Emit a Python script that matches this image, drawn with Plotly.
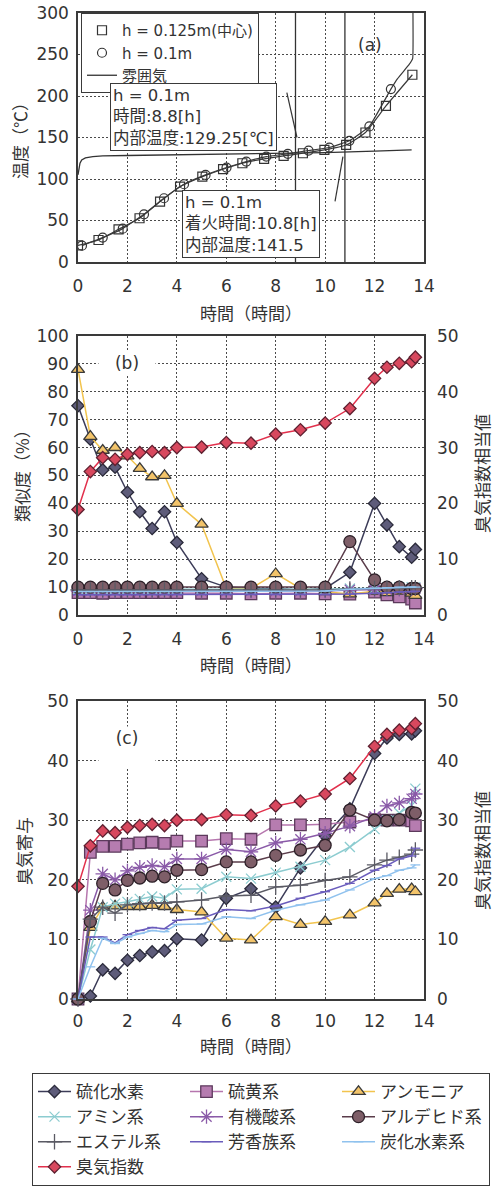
import plotly.graph_objects as go

W, H = 499, 1188
NUM = "DejaVu Sans, Noto Sans CJK JP, sans-serif"
JP = "Noto Sans CJK JP, DejaVu Sans, sans-serif"
TXT = "#333333"

# ---------------- Panel (a): temperature ----------------
t_sq = [0.0, 0.83, 1.64, 2.49, 3.32, 4.13, 5.03, 5.87, 6.65, 7.53, 8.32, 9.1, 9.97, 10.85, 11.63, 12.46, 13.53]
T_sq = [20, 26.5, 39.4, 52.7, 72.8, 90.9, 102.9, 111.8, 119, 124.2, 127.9, 131, 135, 141, 156, 188, 225.6]
t_ci = [0.16, 1.0, 1.81, 2.67, 3.48, 4.29, 5.16, 6.01, 6.81, 7.62, 8.49, 9.33, 10.17, 10.98, 11.79, 12.66]
T_ci = [19.7, 29.4, 40.2, 57.5, 76.8, 93.7, 104.9, 113.8, 121, 127, 130.3, 134.3, 137.9, 146, 163.3, 208.3]
t_ci_tail = [12.93, 13.4, 13.54, 13.55]
T_ci_tail = [221, 238, 245, 310]
t_atm = [0, 0.03, 0.08, 0.15, 0.3, 0.6, 1, 2, 4, 6, 8, 10, 12, 13.5]
T_atm = [105, 113, 119, 123, 125.5, 127, 127.8, 128.3, 129, 129.7, 130.5, 131.8, 133.5, 135]
mark_times = [8.8, 10.8]
mark_temps = [129.25, 141.5]
leader_x = [[8.45, 8.86], [10.72, 10.4]]
leader_y = [[204, 150], [127, 73]]

# ---------------- Panels (b), (c) ----------------
times = [0, 0.5, 1, 1.5, 2, 2.5, 3, 3.5, 4, 5, 6, 7, 8, 9, 10, 11, 12, 12.5, 13, 13.5, 13.65]
names = ["硫化水素", "硫黄系", "アンモニア", "アミン系", "有機酸系",
         "アルデヒド系", "エステル系", "芳香族系", "炭化水素系"]

# (b) similarity (%)
sim_h2s = [75, 63, 52, 53, 44, 37, 31, 37, 26, 13, 10, 9.5, 9.5, 9, 9.5, 15.3, 40, 32.3, 24.5, 20.7, 23.5]
sim_sulfur = [8, 8, 7.8, 8, 8, 8, 8, 8, 8, 7.8, 7.8, 7.6, 7.8, 7.8, 7.6, 7.5, 8.2, 7.2, 6.5, 5.7, 4.3]
sim_ammonia = [88, 64, 59, 60, 57, 52.5, 49.5, 50, 40, 32.5, 9.5, 9.5, 14.8, 9.5, 8.3, 7.5, 8.5, 8, 8.5, 7.8, 7]
sim_amine = [9.2, 9.2, 9.2, 9.2, 9.2, 9.2, 9.2, 9.2, 9.2, 9.2, 9.2, 9.2, 9.2, 9.2, 9.2, 9.5, 9.5, 9.8, 10, 10, 10]
sim_acid = [8.6, 8.6, 8.6, 8.6, 8.6, 8.6, 8.6, 8.6, 8.6, 8.6, 8.6, 8.6, 8.6, 8.6, 8.6, 9, 9, 9, 9.2, 9.3, 9.5]
sim_aldehyde = [10, 10, 10, 10, 10, 10, 10, 10, 10, 10, 10, 10, 10, 10, 10, 26.3, 12.6, 10, 10, 9.5, 9.5]
sim_ester = [9, 9, 9, 9, 9, 9, 9, 9, 9, 9, 9, 9, 9, 9, 9, 9.3, 9.5, 9.6, 9.8, 9.8, 9.8]
sim_aromatic = [7.3, 7.3, 7.3, 7.3, 7.3, 7.3, 7.3, 7.3, 7.3, 7.3, 7.3, 7.3, 7.3, 7.3, 7.3, 7.5, 7.8, 8, 8.2, 8.3, 8.5]
sim_hydro = [8.4, 8.4, 8.4, 8.4, 8.4, 8.4, 8.4, 8.4, 8.4, 8.4, 8.4, 8.4, 8.4, 8.4, 8.6, 9.2, 9.6, 9.8, 10, 10, 10]

# (c) odor contribution
c_h2s = [0, 0.5, 4.9, 4.3, 6.5, 7.3, 7.9, 8.1, 10.1, 9.9, 16.9, 18.5, 15.4, 22, 27.4, 31.9, 41.2, 43.8, 44.4, 44.5, 45]
c_sulfur = [0, 24.6, 25.6, 25.6, 26, 26.2, 26.3, 26.1, 26.5, 26.5, 26.9, 26.8, 29.2, 29.2, 29.3, 29.7, 30.1, 30, 30, 29.9, 29.1]
c_ammonia = [0, 12, 15.4, 15.6, 15.5, 15.5, 15.7, 15.5, 15, 14.6, 10.2, 9.9, 13.8, 12.5, 13, 14.1, 16.1, 17.7, 18.4, 18.5, 18]
c_amine = [0, 8.3, 15.4, 16, 16.3, 16.8, 17.2, 16.9, 18.4, 18.5, 20.5, 20.2, 21.2, 22.2, 23.3, 25.5, 28.5, 30, 31.2, 32.5, 35.3]
c_acid = [0, 14.9, 21, 20, 21.5, 22.1, 22.4, 22.2, 23.5, 23.5, 25.1, 24.7, 26.2, 26.8, 27.8, 29, 30.6, 32.4, 32.9, 33.6, 34.4]
c_aldehyde = [0, 13, 19.4, 18.3, 19.9, 20.3, 20.6, 20.5, 21.6, 21.7, 23, 23, 24.1, 25, 25.8, 31.7, 30, 29.9, 30.1, 31.3, 31.2]
c_ester = [0, 13.4, 15.4, 14.4, 15.8, 16, 16.1, 16.1, 16.3, 16.6, 17.3, 17.4, 18.8, 19.1, 19.9, 20.5, 22.5, 23.3, 23.8, 24.3, 25]
c_aromatic = [0, 10.4, 10.4, 9.4, 10.8, 11.5, 12, 11.8, 13.2, 13.5, 15, 14.8, 15.6, 16.9, 18, 19.4, 21.6, 22.4, 23.5, 24, 25.3]
c_hydro = [0, 5.4, 10.2, 9.3, 10.4, 11, 11.5, 11.3, 12.5, 12.6, 13.8, 13.5, 14.9, 15.8, 16.6, 18.3, 20.2, 20.7, 21.6, 22, 22.5]

odor_name = "臭気指数"
odor_index = [18.9, 25.7, 28.2, 27.9, 28.8, 29.1, 29.3, 29.1, 30, 30.1, 30.9, 30.8, 32.4, 33.2, 34.4, 37, 42.4, 44.4, 45.1, 45.4, 46.2]

sim_series = [sim_h2s, sim_sulfur, sim_ammonia, sim_amine, sim_acid,
              sim_aldehyde, sim_ester, sim_aromatic, sim_hydro]
c_series = [c_h2s, c_sulfur, c_ammonia, c_amine, c_acid,
            c_aldehyde, c_ester, c_aromatic, c_hydro]

styles = [
    dict(line="#3c3c58", fill="#5e5c7a", edge="#2a2a3a", symbol="diamond", size=9.5),
    dict(line="#b676ae", fill="#b67cb0", edge="#5c3a5c", symbol="square", size=11.5),
    dict(line="#f2c44e", fill="#f3c46a", edge="#3a3a3a", symbol="triangle-up", size=11.5),
    dict(line="#8cccd0", fill="#8cccd0", edge="#8cccd0", symbol="x-thin", size=10),
    dict(line="#8a5aa8", fill="#8a5aa8", edge="#8a5aa8", symbol="asterisk", size=12),
    dict(line="#5a3c4a", fill="#7e5e68", edge="#2c2028", symbol="circle", size=12),
    dict(line="#5a5a64", fill="#5a5a64", edge="#5a5a64", symbol="cross-thin", size=11),
    dict(line="#6a5cbc", fill="#6a5cbc", edge="#6a5cbc", symbol="line-ew", size=7),
    dict(line="#90c2ee", fill="#90c2ee", edge="#90c2ee", symbol="line-ew", size=7),
]
odor_style = dict(line="#e2304c", fill="#d8485e", edge="#5e2030", symbol="diamond", size=9.5)

# ---------------- geometry (px) ----------------
PL, PR = 78, 424
A_T, A_B = 13, 262
B_T, B_B = 336, 615
C_T, C_B = 701, 999


def fx(p):
    return p / W


def fy(p):
    return 1 - p / H


fig = go.Figure()

# ----- panel (a) traces -----
line_a = dict(color="#3a3a3a", width=1.2)
fig.add_trace(go.Scatter(x=t_sq, y=T_sq, mode="lines", line=dict(line_a, shape="spline", smoothing=0.4),
                         showlegend=False, hoverinfo="skip", xaxis="x", yaxis="y"))
fig.add_trace(go.Scatter(x=t_ci + t_ci_tail, y=T_ci + T_ci_tail, mode="lines",
                         line=dict(line_a, shape="spline", smoothing=0.3),
                         showlegend=False, hoverinfo="skip", xaxis="x", yaxis="y"))
fig.add_trace(go.Scatter(x=t_sq, y=T_sq, mode="markers", name="h = 0.125m(中心)", legend="legend2",
                         marker=dict(symbol="square-open", size=9, color="#333", line=dict(width=1.2)),
                         xaxis="x", yaxis="y"))
fig.add_trace(go.Scatter(x=t_ci, y=T_ci, mode="markers", name="h = 0.1m", legend="legend2",
                         marker=dict(symbol="circle-open", size=9, color="#333", line=dict(width=1.2)),
                         xaxis="x", yaxis="y"))
fig.add_trace(go.Scatter(x=t_atm, y=T_atm, mode="lines", name="雰囲気", legend="legend2",
                         line=dict(color="#333", width=1.3), xaxis="x", yaxis="y"))


def add_series(x, y, st, name, xa, ya, show):
    fig.add_trace(go.Scatter(
        x=x, y=y, mode="lines+markers", name=name, legendgroup=name, showlegend=show,
        line=dict(color=st["line"], width=1.5),
        marker=dict(symbol=st["symbol"], size=st["size"], color=st["fill"],
                    line=dict(color=st["edge"], width=1.3)),
        cliponaxis=False, xaxis=xa, yaxis=ya))


# ----- panel (b) -----
for nm, ys, st in zip(names, sim_series, styles):
    add_series(times, ys, st, nm, "x2", "y2", False)
add_series(times, odor_index, odor_style, odor_name, "x2", "y3", False)

# ----- panel (c) -----
for nm, ys, st in zip(names, c_series, styles):
    add_series(times, ys, st, nm, "x3", "y4", True)
add_series(times, odor_index, odor_style, odor_name, "x3", "y5", True)

# ---------------- axes ----------------
tickfont = dict(family=NUM, size=17, color=TXT)
grid = dict(showgrid=True, gridcolor="#4a4a4a", griddash="2px,2px", gridwidth=1)
frame = dict(showline=True, linecolor="#3a3a3a", linewidth=1.5, mirror=True, zeroline=False,
             ticks="", automargin=False, tickfont=tickfont)

xcommon = dict(frame, **grid, range=[0, 14], dtick=2, tick0=0, domain=[fx(PL), fx(PR)],
               ticklabelstandoff=8)

fig.update_layout(
    width=W, height=H, template="none",
    margin=dict(l=0, r=0, t=0, b=0),
    paper_bgcolor="white", plot_bgcolor="white",
    showlegend=True,
    xaxis=dict(xcommon, anchor="y"),
    yaxis=dict(frame, **grid, range=[0, 300], dtick=50, domain=[fy(A_B), fy(A_T)], anchor="x",
               ticklabelstandoff=4),
    xaxis2=dict(xcommon, anchor="y2"),
    yaxis2=dict(frame, **grid, range=[0, 100], dtick=10, domain=[fy(B_B), fy(B_T)], anchor="x2",
                ticklabelstandoff=4),
    yaxis3=dict(range=[0, 50], dtick=10, overlaying="y2", side="right", anchor="x2",
                showgrid=False, showline=False, zeroline=False, ticks="", automargin=False,
                tickfont=tickfont, ticklabelstandoff=12),
    xaxis3=dict(xcommon, anchor="y4", ticklabelstandoff=6),
    yaxis4=dict(frame, **grid, range=[0, 50], dtick=10, domain=[fy(C_B), fy(C_T)], anchor="x3",
                ticklabelstandoff=4),
    yaxis5=dict(range=[0, 50], dtick=10, overlaying="y4", side="right", anchor="x3",
                showgrid=False, showline=False, zeroline=False, ticks="", automargin=False,
                tickfont=tickfont, ticklabelstandoff=12),
    legend=dict(orientation="h", x=fx(32), y=fy(1073), xanchor="left", yanchor="top",
                bgcolor="white", bordercolor="#3a3a3a", borderwidth=1,
                font=dict(family=JP, size=17, color=TXT),
                entrywidth=104, entrywidthmode="pixels", itemwidth=33, traceorder="normal"),
    legend2=dict(x=fx(81), y=fy(13), xanchor="left", yanchor="top",
                 bgcolor="white", bordercolor="#3a3a3a", borderwidth=1,
                 font=dict(family=NUM, size=15, color=TXT), itemwidth=30),
)

# ---------------- shapes in panel (a) ----------------
for t in mark_times:
    fig.add_shape(type="line", xref="x", yref="y domain", x0=t, x1=t, y0=0, y1=1,
                  line=dict(color="#333", width=1.3))
for lx, ly in zip(leader_x, leader_y):
    fig.add_shape(type="line", xref="x", yref="y", x0=lx[0], x1=lx[1], y0=ly[0], y1=ly[1],
                  line=dict(color="#333", width=1.2))

# ---------------- annotations ----------------
ann = []
box_font = dict(family=NUM, size=16.5, color=TXT)
ann.append(dict(xref="paper", yref="paper", x=fx(110), y=fy(83), xanchor="left", yanchor="top",
                text=f"h = 0.1m<br>時間:{mark_times[0]}[h]<br>内部温度:{mark_temps[0]}[℃]",
                align="left", showarrow=False, bgcolor="white", bordercolor="#3a3a3a",
                borderwidth=1, borderpad=2, font=box_font))
ann.append(dict(xref="paper", yref="paper", x=fx(182), y=fy(190), xanchor="left", yanchor="top",
                text=f"h = 0.1m<br>着火時間:{mark_times[1]}[h]<br>内部温度:{mark_temps[1]}",
                align="left", showarrow=False, bgcolor="white", bordercolor="#3a3a3a",
                borderwidth=1, borderpad=2, font=box_font))
# panel labels
lab_font = dict(family=NUM, size=17, color=TXT)
ann.append(dict(xref="paper", yref="paper", x=fx(370), y=fy(45), text="(a)", showarrow=False,
                xanchor="center", yanchor="middle", font=lab_font))
ann.append(dict(xref="paper", yref="paper", x=fx(127), y=fy(363), text="(b)", showarrow=False,
                xanchor="center", yanchor="middle", font=lab_font, bgcolor="white",
                width=54, height=22))
ann.append(dict(xref="paper", yref="paper", x=fx(127), y=fy(726), xanchor="center", yanchor="top",
                text="(c)", showarrow=False, font=lab_font, bgcolor="white", width=54, height=38,
                valign="top"))
# axis titles
title_font = dict(family=JP, size=17, color=TXT)
for txt, yy in [("時間（時間）", 312), ("時間（時間）", 664), ("時間（時間）", 1045)]:
    ann.append(dict(xref="paper", yref="paper", x=fx((PL + PR) / 2), y=fy(yy), text=txt,
                    xanchor="center", yanchor="middle", showarrow=False, font=title_font))
for txt, xx, yy in [("温度（℃）", 20, 137), ("類似度（%）", 22, 472), ("臭気寄与", 23, 851),
                    ("臭気指数相当値", 481, 474), ("臭気指数相当値", 481, 851)]:
    ann.append(dict(xref="paper", yref="paper", x=fx(xx), y=fy(yy), text=txt, textangle=-90,
                    xanchor="center", yanchor="middle", showarrow=False, font=title_font))

fig.update_layout(annotations=ann)

fig.write_html("out.html", config={"displayModeBar": False},
               post_script="document.body.style.margin='0px';")
